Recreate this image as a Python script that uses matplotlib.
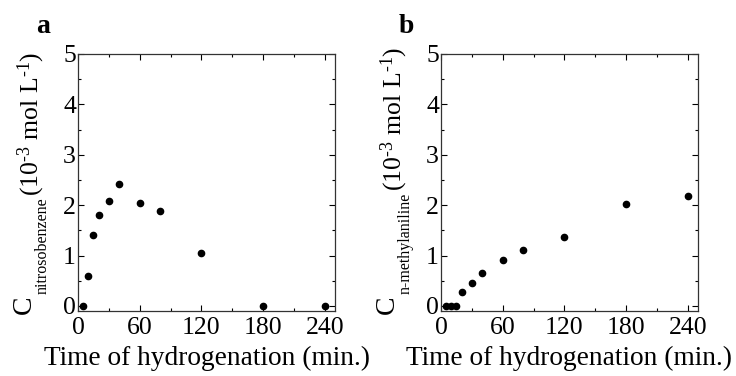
import matplotlib
matplotlib.use('Agg')
import matplotlib.pyplot as plt
from matplotlib.ticker import MultipleLocator

plt.rcParams['font.family'] = ['Liberation Serif', 'DejaVu Serif']
plt.rcParams['mathtext.fontset'] = 'custom'
plt.rcParams['mathtext.rm'] = 'Liberation Serif'
plt.rcParams['mathtext.it'] = 'Liberation Serif:italic'

# time points (min.)
time_a = [5, 10, 15, 20, 30, 40, 60, 80, 120, 180, 240]
nitrosobenzene = [0.0, 0.59, 1.41, 1.81, 2.08, 2.43, 2.04, 1.88, 1.06, 0.0, 0.0]

time_b = [5, 10, 15, 20, 30, 40, 60, 80, 120, 180, 240]
methylaniline = [0.0, 0.0, 0.0, 0.28, 0.45, 0.66, 0.92, 1.12, 1.37, 2.03, 2.19]

x_ticks = [0, 60, 120, 180, 240]
y_ticks = [0, 1, 2, 3, 4, 5]

W, H = 736, 376
fig = plt.figure(figsize=(W / 100, H / 100), dpi=100)
renderer = fig.canvas.get_renderer()


def ylabel(x_px, sub):
    # "C" + small subscript + units, stacked along a vertical line
    kw = dict(rotation=90, rotation_mode='anchor', ha='left', va='baseline')
    t1 = fig.text(x_px / W, 62 / H, 'C', fontsize=20, **kw)
    e1 = t1.get_window_extent(renderer)
    t2 = fig.text((x_px + 16) / W, (e1.y1 + 1) / H, sub, fontsize=11.5, **kw)
    e2 = t2.get_window_extent(renderer)
    fig.text((x_px + 7) / W, (e2.y1 + 2) / H,
             '(10$^{\u20103}$ mol L$^{\u20101}$)', fontsize=18.5, **kw)


panels = [
    (78, time_a, nitrosobenzene, 'nitrosobenzene', 'a'),
    (441, time_b, methylaniline, 'n-methylaniline', 'b'),
]

for left, t, c, name, letter in panels:
    ax = fig.add_axes([left / W, 65 / H, 257 / W, 257 / H])
    ax.plot(t, c, 'o', color='black', markersize=4.5, clip_on=False)
    ax.set_xlim(0, 250)
    ax.set_ylim(-0.1, 5)
    ax.set_xticks(x_ticks)
    ax.set_yticks(y_ticks)
    ax.xaxis.set_minor_locator(MultipleLocator(30))
    ax.yaxis.set_minor_locator(MultipleLocator(0.5))
    ax.tick_params(which='both', direction='in', top=True, right=True,
                   labelsize=18.5)
    ax.tick_params(axis='x', pad=4)
    ax.tick_params(axis='y', pad=1.5)
    ax.tick_params(which='major', length=4, width=0.8)
    ax.tick_params(which='minor', length=2.5, width=0.8)
    for s in ax.spines.values():
        s.set_linewidth(0.9)
        s.set_color('#333333')
    ax.set_xlabel('Time of hydrogenation (min.)', fontsize=19.7, labelpad=5)
    ylabel(left - 47, name)
    fig.text((left - 42) / W, 1 - 33 / H, letter, fontsize=20,
             fontweight='bold', va='baseline')

fig.savefig('out.png', dpi=100)
